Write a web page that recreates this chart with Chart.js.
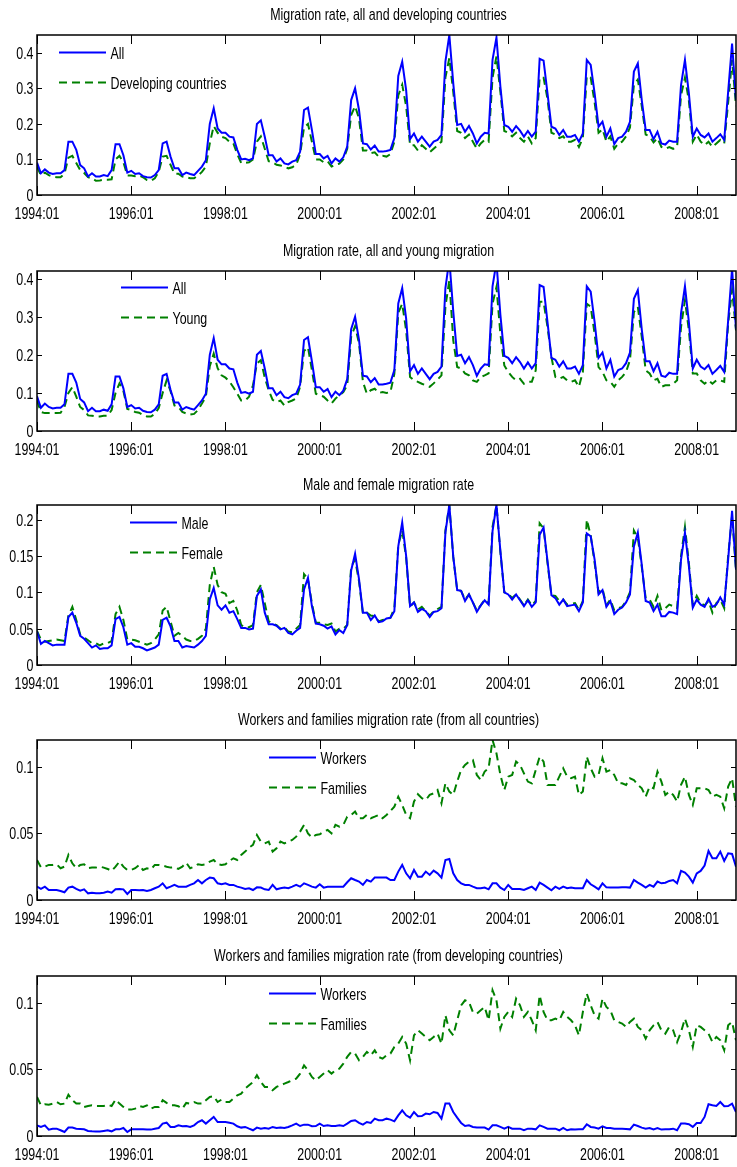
<!DOCTYPE html>
<html><head><meta charset="utf-8">
<script src="https://cdn.jsdelivr.net/npm/chart.js@4.4.1/dist/chart.umd.min.js"></script>
<style>
html,body{margin:0;padding:0;background:#fff;}
body{width:737px;height:1167px;position:relative;overflow:hidden;}
.p{position:absolute;left:0;width:737px;height:220px;}
</style></head><body>
<div class="p" style="top:3px"><canvas id="c1" width="737" height="220"></canvas></div>
<div class="p" style="top:239px"><canvas id="c2" width="737" height="220"></canvas></div>
<div class="p" style="top:473px"><canvas id="c3" width="737" height="220"></canvas></div>
<div class="p" style="top:708px"><canvas id="c4" width="737" height="220"></canvas></div>
<div class="p" style="top:944px"><canvas id="c5" width="737" height="220"></canvas></div>
<script>
// month categories 1994:01 .. 2008:11
const months = [];
for (let yr = 1994; yr <= 2008; yr++) for (let m = 1; m <= 12; m++) months.push(yr + ':' + String(m).padStart(2, '0'));
months.length = 179;
const xTickLabels = ['1994:01','1996:01','1998:01','2000:01','2002:01','2004:01','2006:01','2008:01'];

const allRate = [
.091,.061,.072,.063,.059,.061,.061,.070,.150,.150,.127,.084,
.075,.052,.061,.052,.052,.056,.053,.070,.143,.143,.112,.063,
.068,.059,.061,.053,.050,.049,.056,.070,.145,.150,.108,.075,
.075,.056,.063,.059,.056,.068,.080,.098,.200,.244,.187,.175,
.175,.164,.162,.127,.100,.102,.098,.103,.200,.210,.164,.112,
.112,.094,.103,.089,.086,.094,.098,.122,.239,.246,.183,.115,
.115,.103,.110,.089,.103,.094,.106,.136,.267,.300,.239,.145,
.143,.128,.139,.122,.122,.124,.127,.160,.335,.375,.295,.157,
.173,.150,.164,.150,.136,.150,.155,.169,.375,.450,.314,.197,
.200,.178,.194,.173,.145,.164,.175,.173,.380,.443,.305,.197,
.192,.178,.194,.181,.164,.180,.164,.178,.383,.378,.286,.192,
.187,.169,.183,.164,.164,.169,.150,.173,.380,.366,.286,.192,
.206,.164,.187,.143,.160,.164,.178,.206,.347,.370,.267,.183,
.183,.157,.178,.145,.142,.153,.150,.150,.309,.380,.286,.164,
.187,.169,.162,.173,.150,.160,.171,.155,.290,.426,.267];
const devRate = [
.080,.055,.063,.056,.052,.050,.050,.060,.105,.110,.090,.070,
.062,.050,.047,.040,.041,.043,.043,.044,.100,.110,.092,.055,
.055,.053,.055,.050,.042,.040,.047,.065,.108,.110,.085,.060,
.060,.052,.050,.047,.047,.055,.065,.080,.145,.194,.175,.164,
.160,.150,.145,.115,.090,.090,.092,.100,.150,.165,.130,.095,
.092,.085,.083,.080,.075,.078,.085,.115,.190,.200,.150,.100,
.100,.092,.095,.080,.085,.088,.100,.130,.225,.250,.215,.125,
.125,.118,.120,.108,.110,.108,.115,.150,.280,.310,.250,.140,
.140,.125,.140,.130,.120,.130,.140,.150,.330,.385,.290,.180,
.175,.160,.170,.150,.130,.145,.155,.150,.330,.390,.290,.180,
.175,.165,.175,.160,.150,.165,.145,.160,.330,.330,.270,.175,
.170,.160,.165,.150,.150,.155,.135,.160,.335,.330,.260,.175,
.185,.150,.165,.130,.145,.150,.165,.190,.310,.325,.250,.170,
.165,.148,.160,.135,.130,.135,.130,.135,.280,.330,.265,.150,
.170,.150,.140,.150,.135,.145,.155,.145,.260,.380,.250];
const youngRate = [
.080,.050,.047,.047,.047,.047,.048,.063,.100,.115,.090,.063,
.055,.041,.040,.038,.038,.040,.040,.055,.100,.125,.105,.058,
.055,.050,.048,.042,.038,.038,.045,.060,.100,.133,.105,.067,
.063,.050,.046,.043,.045,.055,.072,.090,.170,.203,.165,.146,
.140,.130,.115,.098,.080,.080,.090,.120,.177,.186,.140,.107,
.082,.076,.080,.067,.076,.080,.085,.116,.210,.220,.160,.098,
.094,.090,.080,.072,.085,.094,.102,.120,.247,.275,.230,.129,
.098,.107,.111,.100,.102,.100,.102,.150,.310,.334,.264,.142,
.133,.129,.124,.120,.116,.125,.135,.146,.326,.396,.238,.168,
.164,.151,.146,.133,.129,.142,.146,.151,.334,.378,.255,.172,
.155,.142,.133,.137,.124,.129,.129,.159,.339,.339,.273,.194,
.142,.137,.142,.133,.129,.133,.116,.155,.334,.326,.255,.168,
.155,.133,.129,.116,.133,.142,.155,.186,.312,.326,.247,.159,
.151,.133,.137,.116,.120,.120,.124,.133,.273,.343,.264,.151,
.151,.133,.124,.133,.124,.133,.133,.129,.282,.370,.264];
const maleRate = [
.046,.029,.033,.030,.027,.028,.028,.028,.066,.072,.058,.040,
.036,.030,.024,.027,.022,.023,.023,.027,.063,.066,.052,.028,
.030,.025,.025,.023,.020,.022,.024,.028,.062,.065,.053,.033,
.033,.024,.026,.025,.024,.028,.033,.040,.090,.106,.082,.076,
.082,.072,.074,.063,.051,.051,.049,.050,.095,.104,.072,.056,
.056,.054,.049,.051,.044,.042,.047,.051,.104,.120,.081,.057,
.056,.054,.050,.053,.042,.048,.044,.055,.130,.153,.118,.072,
.072,.062,.068,.059,.060,.064,.065,.074,.163,.196,.150,.081,
.086,.073,.077,.074,.066,.073,.074,.078,.182,.220,.149,.103,
.102,.088,.097,.086,.073,.082,.089,.083,.184,.220,.157,.100,
.097,.090,.097,.089,.081,.089,.080,.086,.179,.189,.143,.096,
.092,.083,.090,.081,.082,.083,.074,.086,.181,.177,.145,.097,
.103,.080,.088,.070,.076,.079,.086,.097,.163,.182,.138,.088,
.086,.074,.083,.067,.067,.073,.072,.070,.145,.182,.136,.079,
.090,.083,.080,.091,.080,.083,.093,.083,.145,.212,.131];
const femaleRate = [
.047,.035,.032,.033,.034,.035,.034,.033,.068,.080,.062,.042,
.038,.034,.030,.030,.027,.030,.030,.033,.070,.080,.062,.035,
.035,.034,.032,.030,.028,.030,.035,.042,.075,.080,.060,.040,
.044,.040,.035,.033,.033,.036,.040,.050,.110,.135,.110,.100,
.098,.085,.088,.075,.055,.052,.052,.055,.100,.110,.085,.060,
.057,.055,.050,.052,.046,.045,.050,.055,.125,.118,.085,.058,
.058,.056,.055,.057,.046,.050,.050,.055,.135,.145,.115,.070,
.072,.068,.067,.060,.062,.063,.065,.078,.165,.185,.148,.080,
.086,.076,.080,.074,.068,.074,.077,.080,.185,.220,.148,.103,
.102,.090,.097,.086,.075,.082,.090,.085,.190,.220,.155,.100,
.098,.092,.097,.090,.082,.090,.082,.088,.195,.188,.140,.096,
.095,.088,.090,.083,.084,.085,.076,.088,.200,.178,.140,.100,
.105,.082,.090,.075,.078,.080,.088,.100,.185,.175,.135,.092,
.090,.080,.095,.075,.078,.083,.081,.078,.150,.190,.140,.082,
.095,.085,.082,.088,.072,.085,.090,.078,.150,.205,.130];
const workersAll = [
.0100,.0083,.0100,.0075,.0075,.0075,.0068,.0058,.0093,.0100,.0083,.0070,
.0080,.0050,.0055,.0050,.0050,.0055,.0063,.0055,.0080,.0083,.0080,.0045,
.0075,.0075,.0073,.0075,.0068,.0075,.0088,.0100,.0125,.0088,.0100,.0113,
.0100,.0100,.0100,.0113,.0125,.0150,.0125,.0150,.0168,.0163,.0125,.0118,
.0125,.0113,.0113,.0100,.0093,.0083,.0088,.0075,.0095,.0093,.0080,.0075,
.0113,.0080,.0088,.0093,.0088,.0100,.0113,.0100,.0125,.0113,.0100,.0093,
.0118,.0093,.0100,.0100,.0100,.0100,.0100,.0133,.0163,.0150,.0138,.0113,
.0150,.0138,.0168,.0168,.0168,.0168,.0150,.0150,.0213,.0263,.0200,.0163,
.0225,.0175,.0175,.0213,.0188,.0220,.0200,.0168,.0300,.0308,.0200,.0150,
.0125,.0113,.0113,.0100,.0088,.0088,.0093,.0080,.0125,.0125,.0093,.0075,
.0113,.0083,.0083,.0083,.0075,.0088,.0100,.0075,.0130,.0113,.0093,.0073,
.0100,.0083,.0100,.0088,.0093,.0088,.0088,.0088,.0150,.0118,.0100,.0080,
.0125,.0095,.0093,.0093,.0093,.0095,.0095,.0093,.0150,.0130,.0113,.0093,
.0113,.0100,.0138,.0125,.0130,.0143,.0150,.0125,.0218,.0205,.0175,.0130,
.0200,.0218,.0258,.0368,.0313,.0313,.0363,.0293,.0350,.0345,.0250];
const familiesAll = [
.0300,.0245,.0250,.0263,.0263,.0268,.0238,.0250,.0338,.0275,.0238,.0263,
.0268,.0238,.0243,.0243,.0250,.0243,.0233,.0218,.0250,.0288,.0250,.0225,
.0225,.0238,.0263,.0225,.0238,.0230,.0263,.0263,.0258,.0250,.0243,.0245,
.0233,.0250,.0280,.0238,.0250,.0268,.0263,.0268,.0288,.0300,.0268,.0263,
.0268,.0293,.0313,.0300,.0338,.0363,.0393,.0413,.0488,.0438,.0425,.0438,
.0363,.0388,.0438,.0425,.0438,.0450,.0475,.0513,.0563,.0500,.0468,.0488,
.0493,.0513,.0525,.0500,.0563,.0550,.0563,.0625,.0638,.0663,.0613,.0613,
.0638,.0613,.0625,.0638,.0613,.0638,.0668,.0700,.0775,.0713,.0638,.0613,
.0738,.0793,.0763,.0750,.0788,.0800,.0825,.0725,.0875,.0813,.0788,.0888,
.0975,.1013,.1038,.1050,.0938,.0900,.0963,.0988,.1200,.1100,.0938,.0825,
.0925,.0938,.1038,.1013,.0950,.0888,.0875,.0975,.1075,.1038,.0863,.0863,
.0863,.0925,.0988,.0925,.0913,.0925,.0788,.0813,.1075,.0988,.0925,.0938,
.1063,.0963,.0975,.0938,.0875,.0875,.0863,.0913,.0900,.0863,.0838,.0775,
.0850,.0838,.0963,.0888,.0788,.0813,.0788,.0738,.0863,.0925,.0788,.0713,
.0838,.0838,.0838,.0825,.0775,.0788,.0775,.0688,.0850,.0913,.0700];
const workersDev = [
.0080,.0068,.0080,.0048,.0055,.0055,.0043,.0030,.0063,.0063,.0055,.0053,
.0050,.0038,.0035,.0033,.0033,.0038,.0043,.0035,.0050,.0050,.0060,.0030,
.0050,.0050,.0050,.0050,.0048,.0048,.0055,.0060,.0093,.0100,.0068,.0068,
.0080,.0073,.0075,.0068,.0080,.0105,.0118,.0093,.0118,.0143,.0105,.0105,
.0105,.0100,.0093,.0073,.0063,.0068,.0055,.0043,.0063,.0055,.0060,.0055,
.0068,.0060,.0063,.0060,.0068,.0080,.0093,.0075,.0085,.0085,.0073,.0075,
.0093,.0075,.0080,.0075,.0075,.0080,.0075,.0093,.0113,.0118,.0098,.0085,
.0105,.0098,.0130,.0118,.0118,.0130,.0123,.0110,.0155,.0193,.0155,.0138,
.0180,.0148,.0150,.0168,.0163,.0180,.0173,.0130,.0243,.0243,.0180,.0138,
.0098,.0075,.0080,.0068,.0063,.0063,.0063,.0048,.0080,.0080,.0068,.0055,
.0068,.0055,.0055,.0055,.0043,.0055,.0055,.0050,.0080,.0068,.0055,.0055,
.0055,.0043,.0060,.0043,.0050,.0048,.0050,.0050,.0088,.0068,.0063,.0055,
.0073,.0060,.0060,.0055,.0055,.0055,.0053,.0050,.0085,.0075,.0063,.0055,
.0060,.0050,.0060,.0048,.0050,.0050,.0055,.0043,.0093,.0093,.0088,.0068,
.0098,.0098,.0143,.0238,.0230,.0225,.0255,.0223,.0225,.0243,.0180];
const familiesDev = [
.0293,.0230,.0238,.0235,.0243,.0255,.0238,.0243,.0310,.0268,.0243,.0243,
.0218,.0225,.0230,.0225,.0225,.0225,.0235,.0225,.0273,.0243,.0218,.0198,
.0198,.0205,.0225,.0218,.0230,.0205,.0218,.0218,.0268,.0248,.0230,.0230,
.0223,.0205,.0248,.0243,.0255,.0243,.0243,.0268,.0293,.0298,.0255,.0273,
.0255,.0255,.0280,.0305,.0318,.0355,.0380,.0405,.0455,.0405,.0368,.0368,
.0343,.0368,.0380,.0393,.0405,.0418,.0430,.0468,.0530,.0493,.0443,.0418,
.0443,.0468,.0493,.0468,.0493,.0505,.0543,.0593,.0630,.0618,.0568,.0593,
.0630,.0605,.0643,.0593,.0580,.0605,.0618,.0668,.0693,.0743,.0693,.0568,
.0755,.0793,.0768,.0743,.0718,.0743,.0768,.0693,.0905,.0793,.0755,.0868,
.0980,.1018,.1005,.0930,.0918,.0943,.0968,.0868,.1093,.1018,.0805,.0893,
.0930,.0893,.1030,.0980,.0893,.0930,.0868,.0793,.1055,.0930,.0868,.0868,
.0880,.0868,.0930,.0893,.0868,.0830,.0755,.0930,.1068,.0980,.0905,.0880,
.1030,.0968,.0943,.0868,.0855,.0843,.0818,.0855,.0880,.0818,.0793,.0730,
.0793,.0830,.0855,.0793,.0768,.0818,.0793,.0705,.0780,.0880,.0793,.0668,
.0830,.0818,.0793,.0768,.0705,.0743,.0718,.0643,.0830,.0855,.0718];

const yTicksA = [0, 0.1, 0.2, 0.3, 0.4];
const yTicksB = [0, 0.05, 0.1, 0.15, 0.2];
const yTicksC = [0, 0.05, 0.1];

const FONT = '"Liberation Sans", Arial, sans-serif';
const TEXT_SIZE = 17;
const TEXT_SQUEEZE = 0.73; // the reference uses a tall condensed face

function squeezedText(ctx, text, x, y, align) {
  ctx.save();
  ctx.translate(x, y);
  ctx.scale(TEXT_SQUEEZE, 1);
  ctx.textAlign = align;
  ctx.textBaseline = 'alphabetic';
  ctx.fillText(text, 0, 0);
  ctx.restore();
}

const framePlugin = {
  id: 'frame',
  afterDatasetsDraw(chart, args, opts) {
    const ctx = chart.ctx, a = chart.chartArea, xs = chart.scales.x, ys = chart.scales.y;
    ctx.save();
    ctx.strokeStyle = '#000';
    ctx.lineWidth = 1;
    ctx.setLineDash([]);
    ctx.beginPath();
    xs.ticks.forEach(t => {
      const px = Math.round(xs.getPixelForValue(t.value)) + 0.5;
      ctx.moveTo(px, a.bottom); ctx.lineTo(px, a.bottom - 9);
      ctx.moveTo(px, a.top); ctx.lineTo(px, a.top + 9);
    });
    ys.ticks.forEach(t => {
      const py = Math.round(ys.getPixelForValue(t.value)) + 0.5;
      ctx.moveTo(a.left, py); ctx.lineTo(a.left + 5, py);
      ctx.moveTo(a.right, py); ctx.lineTo(a.right - 5, py);
    });
    ctx.stroke();
    ctx.lineWidth = 1.5;
    ctx.strokeRect(a.left, a.top, a.right - a.left, a.bottom - a.top);

    ctx.fillStyle = '#000';
    ctx.font = TEXT_SIZE + 'px ' + FONT;
    // tick labels
    xs.ticks.forEach(t => {
      squeezedText(ctx, months[t.value], xs.getPixelForValue(t.value), a.bottom + 23.5, 'center');
    });
    ys.ticks.forEach(t => {
      squeezedText(ctx, String(+t.value.toFixed(2)), a.left - 3.5, ys.getPixelForValue(t.value) + 6, 'right');
    });
    // title
    squeezedText(ctx, opts.title, (a.left + a.right) / 2 + 2, a.top - 15, 'center');
    // legend
    chart.data.datasets.forEach((ds, k) => {
      const ly = Math.round(a.top + opts.legendY + k * 30) + 0.5;
      const lx = a.left + opts.legendX;
      ctx.strokeStyle = ds.borderColor;
      ctx.lineWidth = ds.borderWidth;
      ctx.setLineDash(ds.borderDash || []);
      ctx.beginPath(); ctx.moveTo(lx, ly); ctx.lineTo(lx + 47, ly); ctx.stroke();
      ctx.setLineDash([]);
      ctx.fillStyle = '#000';
      squeezedText(ctx, ds.label, lx + 51.5, ly + 6, 'left');
    });
    ctx.restore();
  }
};

function series(label, values, solid) {
  return {
    label,
    data: values.map((v, i) => ({ x: i, y: v })),
    borderColor: solid ? '#0000ff' : '#008000',
    borderWidth: 2,
    borderDash: solid ? [] : [8, 5],
    pointRadius: 0,
    tension: 0,
    fill: false
  };
}

function makePanel(id, title, sets, yMax, yTicks, legendX, legendY) {
  new Chart(document.getElementById(id), {
    type: 'line',
    data: { datasets: sets },
    options: {
      responsive: false,
      animation: false,
      events: [],
      layout: { padding: { top: 32, right: 1, left: 0, bottom: 0 } },
      plugins: {
        legend: { display: false },
        tooltip: { enabled: false },
        frame: { title, legendX, legendY }
      },
      scales: {
        x: {
          type: 'linear', min: 0, max: months.length - 1,
          afterBuildTicks: s => { s.ticks = xTickLabels.map(l => ({ value: months.indexOf(l) })); },
          afterFit: s => { s.height = 28; },
          ticks: { display: false },
          grid: { display: false, drawTicks: false },
          border: { display: false }
        },
        y: {
          min: 0, max: yMax,
          afterBuildTicks: s => { s.ticks = yTicks.map(v => ({ value: v })); },
          afterFit: s => { s.width = 37; },
          ticks: { display: false },
          grid: { display: false, drawTicks: false },
          border: { display: false }
        }
      }
    },
    plugins: [framePlugin]
  });
}

makePanel('c1', 'Migration rate, all and developing countries',
  [series('All', allRate, true), series('Developing countries', devRate, false)], 0.45, yTicksA, 22, 17);
makePanel('c2', 'Migration rate, all and young migration',
  [series('All', allRate, true), series('Young', youngRate, false)], 0.42, yTicksA, 84, 16);
makePanel('c3', 'Male and female migration rate',
  [series('Male', maleRate, true), series('Female', femaleRate, false)], 0.22, yTicksB, 93, 17);
makePanel('c4', 'Workers and families migration rate (from all countries)',
  [series('Workers', workersAll, true), series('Families', familiesAll, false)], 0.12, yTicksC, 232, 17);
makePanel('c5', 'Workers and families migration rate (from developing countries)',
  [series('Workers', workersDev, true), series('Families', familiesDev, false)], 0.12, yTicksC, 232, 17);
</script>
</body></html>
